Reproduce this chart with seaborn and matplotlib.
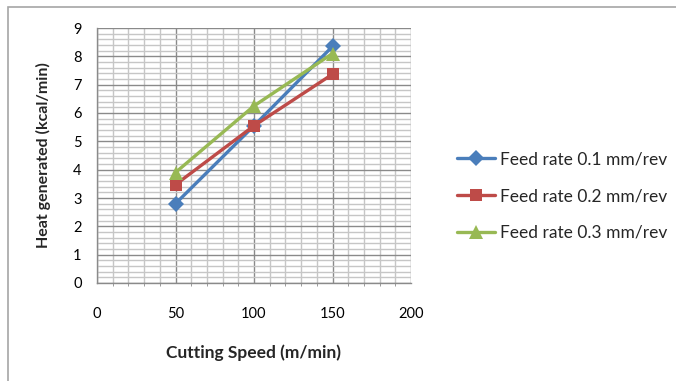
import pandas as pd
import seaborn as sns
import matplotlib.pyplot as plt
import matplotlib.patches as mpatches
from matplotlib.ticker import MultipleLocator

speeds = [50, 100, 150]
feed_labels = ['Feed rate 0.1 mm/rev', 'Feed rate 0.2 mm/rev', 'Feed rate 0.3 mm/rev']
heat_01 = [2.8, 5.55, 8.35]
heat_02 = [3.47, 5.55, 7.37]
heat_03 = [3.9, 6.25, 8.1]

colors = ['#4a7ebb', '#be4b48', '#98b954']
markers = ['D', 's', '^']
msizes = [8, 9, 10]

df = pd.DataFrame({
    'speed': speeds * 3,
    'heat': heat_01 + heat_02 + heat_03,
    'feed': [f for f in feed_labels for _ in speeds],
})

sns.set_style('white')
plt.rcParams['font.family'] = ['Lato', 'DejaVu Sans']

fig = plt.figure(figsize=(6.76, 3.81), dpi=100)
ax = fig.add_axes([97 / 676, 1 - 283 / 381, 314 / 676, 255 / 381])

for feed, c, m, ms in zip(feed_labels, colors, markers, msizes):
    sub = df[df['feed'] == feed]
    sns.lineplot(data=sub, x='speed', y='heat', ax=ax, color=c, marker=m,
                 markersize=ms, markeredgewidth=0, linewidth=2.4, label=feed,
                 zorder=5)

ax.set_xlim(0, 200)
ax.set_ylim(0, 9)
ax.xaxis.set_major_locator(MultipleLocator(50))
ax.xaxis.set_minor_locator(MultipleLocator(10))
ax.yaxis.set_major_locator(MultipleLocator(1))
ax.yaxis.set_minor_locator(MultipleLocator(0.2))

ax.grid(which='minor', color='#c6c6c6', linewidth=1.0)
ax.grid(which='major', color='#8a8a8a', linewidth=1.0)
ax.set_axisbelow(True)

for s in ['top', 'right']:
    ax.spines[s].set_visible(False)
for s in ['left', 'bottom']:
    ax.spines[s].set_color('#8a8a8a')
    ax.spines[s].set_linewidth(1.0)

ax.tick_params(axis='both', which='major', direction='out', length=4,
               color='#8a8a8a', labelsize=10.5, labelcolor='black')
ax.tick_params(axis='x', which='major', pad=13)
ax.tick_params(axis='y', which='major', pad=7)
ax.tick_params(axis='x', which='minor', direction='out', length=2.5,
               color='#8a8a8a', bottom=True)
ax.tick_params(axis='y', which='minor', left=False)

ax.set_xlabel('Cutting Speed (m/min)', fontsize=12.5, fontweight='bold')
ax.set_ylabel('Heat generated (kcal/min)', fontsize=11.5, fontweight='bold')
ax.xaxis.set_label_coords(0.5, -0.24)
ax.yaxis.set_label_coords(-0.145, 0.5)

handles, labels = ax.get_legend_handles_labels()
ax.legend_.remove()
fig.legend(handles, labels, loc='center left', bbox_to_anchor=(0.653, 1 - 196 / 381),
           frameon=False, fontsize=12.5, labelspacing=1.2, handlelength=2.2,
           handletextpad=0.3)

fig.patches.append(mpatches.Rectangle((8 / 676, -0.05), 1.1, 1 - 7 / 381 + 0.05,
                                      transform=fig.transFigure, fill=False,
                                      edgecolor='#a6a6a6', linewidth=1.2))

fig.savefig('out.png', dpi=100)
